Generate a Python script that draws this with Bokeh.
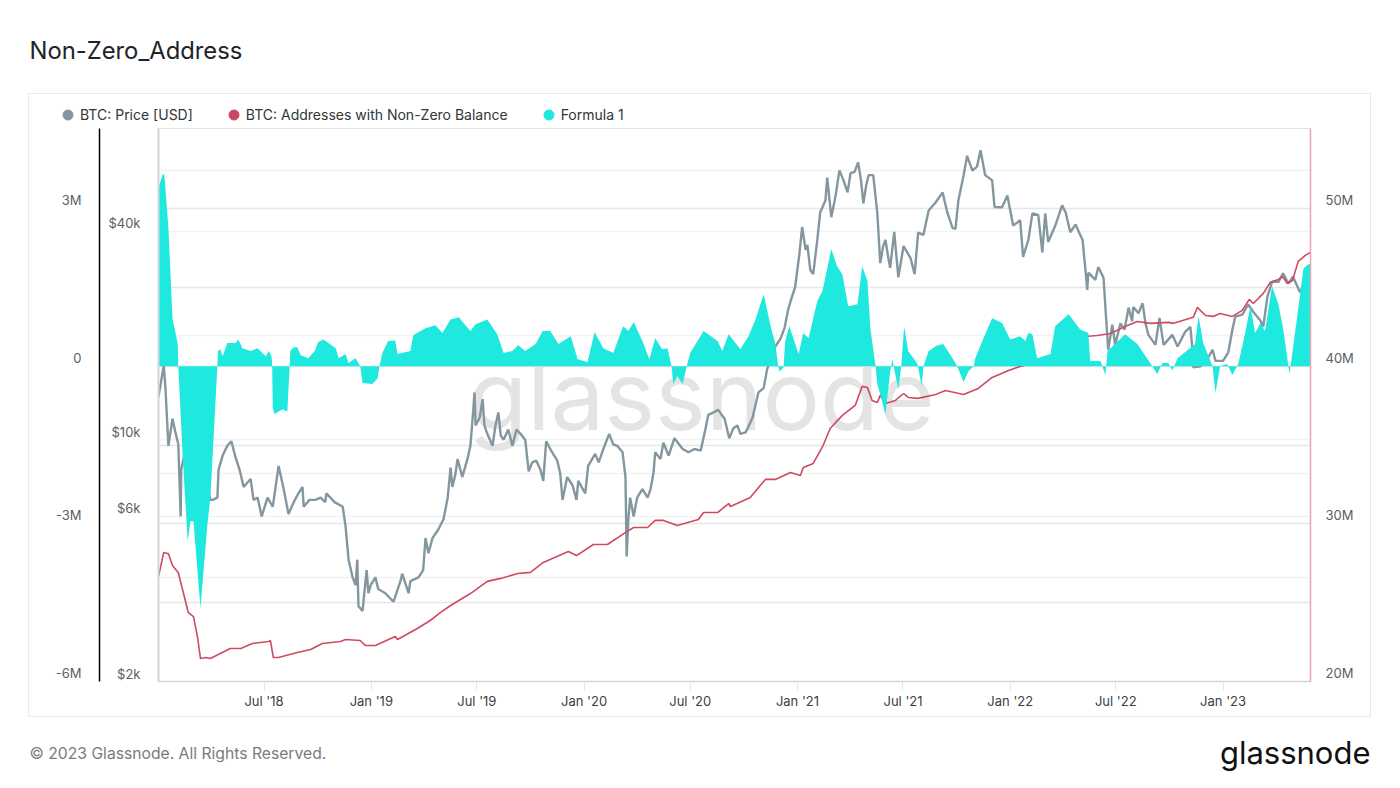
from bokeh.embed import file_html
from bokeh.layouts import column
from bokeh.models import (DatetimeAxis, DatetimeTickFormatter, FixedTicker, Grid, Label, Legend, LegendItem,
                          LinearAxis, LogAxis, LogScale, PrintfTickFormatter, Range1d)
from bokeh.plotting import figure
from bokeh.resources import INLINE
import pandas as pd

# days are counted from the start of the chart
start_date = pd.Timestamp("2018-01-01")
end_date = pd.Timestamp("2023-05-31")

# BTC price in thousands of USD
price_day = [0, 9, 12, 17, 24, 29, 34, 38, 39, 48, 57, 65, 74, 82, 89, 93, 101, 103, 110, 118, 125, 132, 139, 146,
             158, 163, 170, 177, 187, 196, 206, 214, 223, 232, 240, 247, 249, 259, 269, 278, 286, 288, 302, 316,
             321, 326, 333, 338, 341, 343, 350, 357, 360, 364, 372, 377, 389, 403, 415, 418, 429, 432, 446, 454,
             458, 463, 470, 480, 489, 496, 501, 504, 509, 513, 521, 530, 535, 540, 542, 544, 551, 556, 559, 564,
             573, 578, 583, 587, 592, 600, 607, 614, 621, 629, 635, 641, 648, 655, 660, 665, 672, 684, 689, 693,
             701, 710, 717, 720, 732, 737, 749, 755, 763, 773, 780, 787, 796, 801, 803, 806, 809, 815, 821, 830,
             839, 844, 849, 852, 861, 866, 875, 885, 899, 909, 919, 930, 938, 943, 952, 960, 971, 979, 986, 993,
             998, 1007, 1015, 1019, 1029, 1038, 1044, 1058, 1067, 1074, 1080, 1086, 1092, 1099, 1104, 1110, 1113,
             1118, 1123, 1130, 1135, 1144, 1147, 1154, 1161, 1168, 1175, 1182, 1187, 1194, 1200, 1205, 1209, 1214,
             1218, 1226, 1233, 1238, 1243, 1247, 1252, 1255, 1262, 1269, 1278, 1290, 1297, 1303, 1312, 1321, 1333,
             1345, 1353, 1362, 1367, 1372, 1381, 1387, 1396, 1404, 1410, 1418, 1430, 1434, 1447, 1456, 1466, 1478,
             1483, 1492, 1499, 1509, 1516, 1521, 1526, 1538, 1550, 1556, 1564, 1573, 1585, 1590, 1593, 1595, 1607,
             1612, 1621, 1626, 1629, 1636, 1641, 1650, 1657, 1664, 1670, 1672, 1681, 1688, 1693, 1698, 1710, 1717,
             1724, 1739, 1748, 1761, 1770, 1773, 1775, 1787, 1797, 1808, 1813, 1826, 1835, 1842, 1847, 1859, 1869,
             1878, 1890, 1895, 1902, 1910, 1921, 1929, 1938, 1946, 1958, 1967, 1974]
price_k = [13.3, 16.4, 14.0, 9.6, 11.5, 10.5, 9.7, 6.0, 8.2, 9.7, 10.0, 8.2, 7.2, 7.7, 6.7, 6.7, 6.8, 8.2, 9.0, 9.6,
           9.9, 8.9, 8.2, 7.3, 7.7, 6.7, 6.8, 6.0, 6.8, 6.4, 8.4, 7.3, 6.1, 6.6, 7.0, 7.3, 6.4, 6.7, 6.7, 6.8, 6.6,
           7.0, 6.6, 6.4, 5.6, 4.5, 4.0, 3.8, 4.5, 3.3, 3.2, 4.2, 3.6, 3.8, 4.0, 3.7, 3.6, 3.4, 3.9, 4.1, 3.6, 3.9,
           4.0, 4.2, 5.2, 4.7, 5.2, 5.5, 5.9, 6.8, 8.3, 7.3, 7.9, 8.8, 7.8, 8.8, 9.6, 12.2, 13.7, 11.0, 11.6, 13.1,
           11.0, 10.4, 9.6, 11.0, 12.0, 10.3, 10.0, 10.7, 9.6, 10.7, 10.4, 10.0, 8.1, 8.6, 8.7, 8.2, 7.6, 9.9, 9.4,
           8.7, 8.0, 6.7, 7.8, 7.4, 6.7, 7.6, 7.0, 8.4, 9.1, 8.6, 9.4, 10.4, 9.7, 9.6, 9.2, 7.8, 4.6, 5.9, 6.8, 6.0,
           6.8, 7.2, 6.8, 7.2, 8.0, 9.2, 8.8, 9.8, 9.0, 10.1, 9.4, 9.2, 9.4, 9.3, 10.7, 11.8, 12.0, 12.2, 11.5,
           10.1, 10.8, 11.0, 10.4, 10.5, 11.2, 11.6, 13.7, 14.1, 16.0, 18.6, 19.6, 21.1, 23.8, 25.7, 27.6, 34.1,
           41.2, 35.4, 36.6, 31.0, 30.1, 37.8, 45.4, 49.2, 57.3, 44.0, 50.3, 60.1, 56.2, 51.9, 59.0, 59.5, 63.4,
           56.2, 48.2, 54.5, 58.2, 58.2, 45.1, 32.4, 36.3, 37.8, 33.4, 31.4, 39.9, 29.5, 36.3, 33.5, 30.1, 39.7,
           39.1, 46.0, 48.5, 51.9, 45.4, 41.0, 40.7, 49.2, 58.2, 66.2, 60.0, 61.6, 68.7, 58.2, 56.2, 47.1, 47.0,
           50.8, 41.6, 43.1, 33.8, 37.8, 45.1, 44.7, 34.8, 45.1, 37.3, 41.5, 47.6, 45.4, 39.8, 41.9, 37.8, 31.0,
           27.1, 30.4, 29.0, 31.6, 29.4, 21.7, 18.2, 21.5, 18.8, 21.7, 20.8, 24.1, 22.0, 24.2, 23.2, 24.8, 21.7,
           20.1, 18.8, 22.5, 18.8, 20.1, 18.6, 20.5, 21.2, 18.6, 16.2, 16.3, 16.9, 18.2, 16.9, 16.9, 17.9, 20.8,
           22.7, 23.0, 24.6, 23.4, 22.1, 21.2, 25.9, 28.6, 28.6, 30.3, 28.3, 29.6, 26.7, 28.6, 27.9]

# addresses with non-zero balance in millions
address_day = [0, 9, 17, 24, 34, 46, 51, 60, 67, 72, 81, 89, 106, 123, 141, 161, 189, 192, 197, 206, 238, 261, 281,
               312, 321, 346, 355, 372, 406, 410, 444, 466, 484, 501, 535, 564, 587, 616, 638, 660, 703, 717, 746,
               770, 804, 815, 839, 852, 866, 890, 926, 935, 959, 978, 981, 1015, 1041, 1058, 1084, 1101, 1106, 1123,
               1140, 1152, 1173, 1195, 1207, 1216, 1224, 1233, 1238, 1247, 1264, 1278, 1286, 1303, 1333, 1350, 1381,
               1406, 1430, 1458, 1478, 1507, 1547, 1590, 1610, 1633, 1662, 1679, 1701, 1732, 1741, 1775, 1782, 1796,
               1809, 1821, 1842, 1859, 1871, 1878, 1895, 1907, 1921, 1928, 1936, 1945, 1955, 1967, 1976]
address_m = [26.66, 28.19, 28.1, 27.36, 26.9, 25.14, 24.38, 24.12, 22.8, 21.46, 21.52, 21.46, 21.78, 22.09, 22.09,
             22.41, 22.54, 22.6, 21.52, 21.52, 21.84, 22.03, 22.41, 22.54, 22.66, 22.6, 22.28, 22.28, 22.86, 22.66,
             23.36, 23.87, 24.38, 24.82, 25.58, 26.35, 26.54, 26.85, 26.92, 27.55, 28.25, 27.99, 28.69, 28.69, 29.52,
             29.77, 29.77, 30.22, 30.22, 29.9, 30.28, 30.72, 30.72, 31.29, 31.1, 31.67, 32.82, 32.82, 33.26, 33.07,
             33.58, 33.83, 34.97, 36.05, 36.88, 37.51, 38.72, 38.65, 37.83, 37.7, 38.15, 37.64, 37.83, 38.27, 38.02,
             37.96, 38.21, 38.46, 38.21, 38.59, 39.29, 39.73, 39.99, 40.24, 40.88, 41.89, 41.95, 42.08, 42.59, 42.84,
             42.72, 42.78, 42.72, 43.1, 43.73, 43.22, 43.16, 43.35, 43.16, 43.54, 44.24, 43.98, 44.62, 45.32, 45.5,
             45.7, 45.25, 45.44, 46.65, 47.03, 47.22]

# Formula 1 in millions
formula_day = [0, 7, 10, 17, 24, 33, 34, 41, 50, 55, 60, 72, 84, 89, 101, 102, 106, 110, 118, 132, 137, 144, 158, 170,
               184, 189, 194, 195, 196, 199, 213, 221, 225, 226, 232, 238, 244, 257, 268, 274, 283, 304, 309, 321,
               326, 338, 346, 350, 367, 376, 379, 384, 394, 406, 410, 432, 437, 458, 475, 487, 501, 515, 535, 544,
               564, 581, 592, 607, 617, 629, 647, 659, 672, 686, 707, 719, 736, 748, 763, 780, 797, 806, 815, 830,
               842, 852, 864, 873, 880, 883, 890, 899, 906, 912, 935, 959, 967, 978, 998, 1012, 1024, 1038, 1050,
               1058, 1063, 1065, 1072, 1075, 1082, 1098, 1106, 1115, 1130, 1139, 1154, 1164, 1173, 1183, 1199, 1207,
               1216, 1221, 1230, 1233, 1247, 1255, 1259, 1261, 1269, 1274, 1279, 1286, 1302, 1309, 1312, 1321, 1336,
               1346, 1362, 1370, 1381, 1389, 1398, 1401, 1415, 1430, 1447, 1461, 1478, 1487, 1492, 1499, 1507, 1530,
               1538, 1561, 1581, 1595, 1598, 1616, 1624, 1628, 1658, 1679, 1701, 1713, 1722, 1732, 1739, 1748, 1778,
               1784, 1792, 1808, 1813, 1821, 1833, 1842, 1852, 1861, 1873, 1881, 1890, 1898, 1910, 1921, 1929, 1940,
               1946, 1964, 1972, 1976]
formula_m = [3.39, 3.65, 3.65, 2.63, 0.91, 0.42, 0, -1.62, -3.33, -2.95, -2.95, -4.6, -3.0, -2.5, 0, 0.29, 0.32, 0.19,
             0.44, 0.44, 0.51, 0.34, 0.29, 0.34, 0.19, 0.29, 0.19, 0, -0.8, -0.91, -0.82, -0.86, 0, 0.29, 0.36, 0.36,
             0.21, 0.15, 0.29, 0.46, 0.51, 0.34, 0.15, 0.23, 0.06, 0.15, 0, -0.32, -0.34, -0.23, 0, 0.25, 0.48, 0.49,
             0.23, 0.29, 0.59, 0.72, 0.78, 0.63, 0.89, 0.93, 0.67, 0.8, 0.89, 0.61, 0.25, 0.29, 0.4, 0.29, 0.42, 0.67,
             0.67, 0.42, 0.57, 0.13, 0.08, 0.65, 0.34, 0.25, 0.76, 0.67, 0.84, 0.48, 0.13, 0.53, 0.32, 0.34, 0, -0.34,
             -0.19, -0.34, 0, 0.25, 0.67, 0.48, 0.29, 0.61, 0.32, 0.57, 0.89, 1.37, 0.76, 0.42, 0, -0.1, -0.03, 0.48,
             0.76, 0.23, 0.63, 0.53, 1.24, 1.43, 2.23, 1.9, 1.75, 1.14, 1.18, 1.9, 1.62, 0.72, 0, -0.34, -0.91, -0.1,
             0.13, 0, -0.44, 0, 0.76, 0.29, 0.04, -0.38, 0, 0.29, 0.4, 0.42, 0.15, 0, -0.3, -0.1, 0, 0.15, 0.53, 0.91,
             0.82, 0.51, 0.57, 0.48, 0.63, 0.61, 0.15, 0.23, 0.76, 0.99, 0.7, 0.63, 0.1, 0.1, -0.17, 0.29, 0.61, 0.42,
             0.06, -0.15, 0.06, 0.06, -0.08, 0.15, 0.42, 0.95, 0.44, 0, -0.51, 0, 0.04, -0.17, 0.04, 0.48, 1.14, 0.63,
             0.82, 0.67, 1.52, 1.18, 0.72, -0.15, 0.34, 1.86, 1.94, 1.94]

formula_ticks = [-6, -3, 0, 3]
price_ticks = [2, 6, 10, 40]
price_grid = [2, 4, 6, 8, 10, 20, 40, 60]
address_ticks = [20, 30, 40, 50]
address_grid = [20, 25, 30, 35, 40, 45, 50]
date_ticks = ["2018-07-01", "2019-01-01", "2019-07-01", "2020-01-01", "2020-07-01", "2021-01-01", "2021-07-01",
              "2022-01-01", "2022-07-01", "2023-01-01"]


def to_dates(days):
    return start_date + pd.to_timedelta(days, unit="D")


def text_strip(width, height):
    # empty figure that only carries labels or the legend
    strip = figure(width=width, height=height, output_backend="svg", toolbar_location=None, x_axis_type=None,
                   y_axis_type=None, x_range=Range1d(0, 1), y_range=Range1d(0, 1), min_border=0,
                   outline_line_color=None, frame_align=False)
    strip.grid.visible = False
    return strip


FRAME_H = 553
# glassnode prints its y labels just above the grid lines
LINEAR_LIFT = 8.5
PRICE_LIFT = 8

formula_low, formula_high = -6, 4.523
price_low, price_high = 2, 79.4
address_low, address_high = 20, 55.08

formula_shift = (formula_high - formula_low) * LINEAR_LIFT / FRAME_H
address_shift = (address_high - address_low) * LINEAR_LIFT / FRAME_H
price_shift = (price_high / price_low) ** (PRICE_LIFT / FRAME_H)

LABEL_FONT = "Inter"
LABEL_COLOR = "#5b6064"

header = text_strip(1384, 94)
header.add_layout(Label(x=29, y=44, x_units="screen", y_units="screen", text="Non-Zero_Address", text_font=LABEL_FONT,
                        text_font_size="23.8px", text_color="#1d2429", text_baseline="middle"))

# legend sits in its own strip at the top of the card
legend_strip = text_strip(1341, 33)
price_dot = legend_strip.scatter([float("nan")], [float("nan")], color="#84979f")
address_dot = legend_strip.scatter([float("nan")], [float("nan")], color="#c9485f")
formula_dot = legend_strip.scatter([float("nan")], [float("nan")], color="#1fe8df")
# bokeh scales legend dots to the glyph box, hence the large box and the negative standoff
legend = Legend(items=[LegendItem(label="BTC: Price [USD]", renderers=[price_dot]),
                       LegendItem(label="BTC: Addresses with Non-Zero Balance", renderers=[address_dot]),
                       LegendItem(label="Formula 1", renderers=[formula_dot])],
                orientation="horizontal", location=(26, 0), background_fill_color=None,
                border_line_color=None, padding=0, margin=0, spacing=28, label_standoff=-5,
                glyph_width=25, glyph_height=25, label_text_font=LABEL_FONT, label_text_font_size="14px",
                label_text_color="#30363a")
legend_strip.add_layout(legend)

p = figure(width=1341, height=589, output_backend="svg", toolbar_location=None,
           x_axis_type=None, y_axis_type=None,
           x_range=Range1d(start_date, end_date), y_range=Range1d(formula_low, formula_high),
           min_border_left=129, min_border_right=60, min_border_top=1, min_border_bottom=35,
           outline_line_color="#dfe3e6", frame_align=False)
p.extra_y_ranges = {
    "price": Range1d(price_low, price_high),
    "address": Range1d(address_low, address_high),
    "formula_labels": Range1d(formula_low - formula_shift, formula_high - formula_shift),
    "price_labels": Range1d(price_low / price_shift, price_high / price_shift),
    "address_labels": Range1d(address_low - address_shift, address_high - address_shift),
}
p.extra_y_scales = {"price": LogScale(), "price_labels": LogScale()}

# axes, inner ones first
price_axis = LogAxis(y_range_name="price_labels", ticker=FixedTicker(ticks=price_ticks),
                     formatter=PrintfTickFormatter(format="$%dk"), major_label_standoff=18)
price_axis.axis_line_color = "#cfd6da"
price_axis.axis_line_width = 2
price_axis.axis_label = " "
price_axis.axis_label_standoff = -7
price_axis.axis_label_text_font_size = "9px"
formula_axis = LinearAxis(y_range_name="formula_labels", ticker=FixedTicker(ticks=formula_ticks),
                          formatter=PrintfTickFormatter(format="%dM"), major_label_overrides={0: "0"},
                          major_label_standoff=18)
formula_axis.axis_line_color = "black"
formula_axis.axis_line_width = 1.5
address_axis = LinearAxis(y_range_name="address_labels", ticker=FixedTicker(ticks=address_ticks),
                          formatter=PrintfTickFormatter(format="%dM"), major_label_standoff=15)
address_axis.axis_line_color = "#e9a5b2"
address_axis.axis_line_width = 1.5
for axis in (price_axis, formula_axis, address_axis):
    axis.major_tick_line_color = None
    axis.minor_tick_line_color = None
    axis.major_tick_out = 0
    axis.major_tick_in = 0
    axis.major_label_text_font = LABEL_FONT
    axis.major_label_text_font_size = "13px"
    axis.major_label_text_color = LABEL_COLOR
p.add_layout(price_axis, "left")
p.add_layout(formula_axis, "left")
p.add_layout(address_axis, "right")

date_axis = DatetimeAxis(ticker=FixedTicker(ticks=[pd.Timestamp(d).timestamp() * 1000 for d in date_ticks]),
                         formatter=DatetimeTickFormatter(months="%b '%y", days="%b '%y", context=None))
date_axis.axis_line_color = "#cfd6da"
date_axis.axis_line_width = 1.5
date_axis.major_tick_line_color = "#e3e6e8"
date_axis.major_tick_out = 9
date_axis.major_tick_in = 0
date_axis.minor_tick_line_color = None
date_axis.major_label_standoff = 2
date_axis.major_label_text_font = LABEL_FONT
date_axis.major_label_text_font_size = "13px"
date_axis.major_label_text_color = "#3c4144"
p.add_layout(date_axis, "below")

p.add_layout(Grid(dimension=1, y_range_name="price", ticker=FixedTicker(ticks=price_grid),
                  grid_line_color="#f1f2f3", grid_line_width=1.5))
p.add_layout(Grid(dimension=1, y_range_name="address", ticker=FixedTicker(ticks=address_grid),
                  grid_line_color="#e4e6e8", grid_line_width=1.5))

p.add_layout(Label(x=543, y=FRAME_H - 266, x_units="screen", y_units="screen", text="glassnode",
                   text_font=LABEL_FONT, text_font_size="96px", text_color="#e4e4e4", text_align="center",
                   text_baseline="middle", level="underlay"))

# teal goes last: in the reference it covers the two lines
p.line(to_dates(price_day), price_k, y_range_name="price", line_color="#84979f", line_width=2.4)
p.line(to_dates(address_day), address_m, y_range_name="address", line_color="#cf4a61", line_width=1.6)
p.varea(to_dates(formula_day), y1=[0] * len(formula_day), y2=formula_m, fill_color="#1fe8df")

footer = text_strip(1384, 58)
footer.add_layout(Label(x=29, y=23, x_units="screen", y_units="screen", text="\u00a9 2023 Glassnode. All Rights Reserved.",
                        text_font=LABEL_FONT, text_font_size="15.7px", text_color="#777c80", text_baseline="middle"))
footer.add_layout(Label(x=1370, y=24, x_units="screen", y_units="screen", text="glassnode", text_font=LABEL_FONT,
                        text_font_size="31px", text_color="#111111", text_align="right",
                        text_baseline="middle"))

card = column(legend_strip, p, spacing=0, margin=(0, 0, 2, 29), styles={"outline": "1.5px solid #e9eaeb"})
page = column(header, card, footer, spacing=0)
open("out.html", "w").write(file_html(page, INLINE))
